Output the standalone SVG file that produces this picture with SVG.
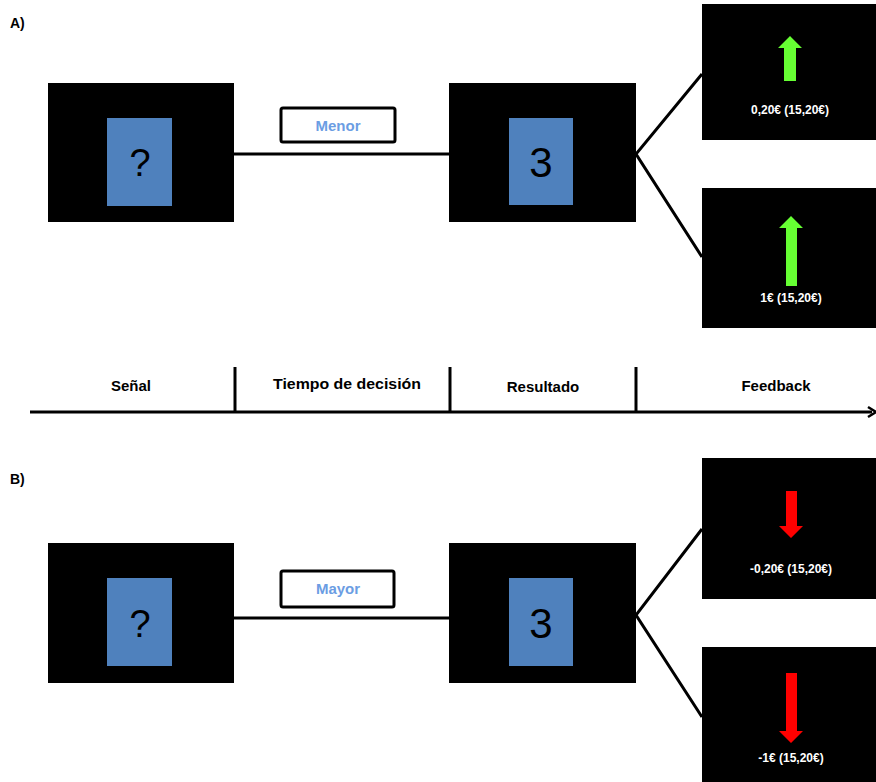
<svg xmlns="http://www.w3.org/2000/svg" width="876" height="782" viewBox="0 0 876 782">
<style>
.scr{fill:#000}
.card{fill:#4f81bd}
.lbl{fill:#fff;stroke:#000;stroke-width:3}
.ln{stroke:#000;stroke-width:3;fill:none}
.big{font-family:"Liberation Sans",Arial,sans-serif;font-size:42px;fill:#000;text-anchor:middle}
.btn{font-family:"Liberation Sans",Arial,sans-serif;font-size:15px;font-weight:bold;fill:#6b9de3;text-anchor:middle}
.fb{font-family:"Liberation Sans",Arial,sans-serif;font-size:12px;font-weight:bold;fill:#fff;text-anchor:middle}
.ph{font-family:"Liberation Sans",Arial,sans-serif;font-size:15px;font-weight:bold;fill:#000;text-anchor:middle}
.hd{font-family:"Liberation Sans",Arial,sans-serif;font-size:14px;font-weight:bold;fill:#000}
.up{fill:#66ff33}
.dn{fill:#ff0000}
</style>
<rect width="876" height="782" fill="#fff"/>

<text class="hd" x="10" y="28">A)</text>
<text class="hd" x="10" y="484">B)</text>

<g id="connectors">
  <line class="ln" x1="234" y1="154" x2="450" y2="154"/>
  <polyline class="ln" points="702,74 636,154 702,257"/>
  <line class="ln" x1="234" y1="618" x2="450" y2="618"/>
  <polyline class="ln" points="702,529 636,615 702,717"/>
</g>

<g id="timeline">
  <line class="ln" x1="30" y1="412" x2="872" y2="412"/>
  <path d="M868,407 L876,412 L868,417" fill="none" stroke="#000" stroke-width="2.5"/>
  <line class="ln" x1="235" y1="367" x2="235" y2="412"/>
  <line class="ln" x1="450" y1="367" x2="450" y2="412"/>
  <line class="ln" x1="636" y1="367" x2="636" y2="412"/>
  <text class="ph" x="131" y="391">Señal</text>
  <text class="ph" x="347" y="389" textLength="148" lengthAdjust="spacingAndGlyphs">Tiempo de decisión</text>
  <text class="ph" x="543" y="392">Resultado</text>
  <text class="ph" x="776" y="391">Feedback</text>
</g>

<g id="a-senal">
  <rect class="scr" x="48" y="83" width="186" height="139"/>
  <rect class="card" x="107" y="118" width="65" height="88"/>
  <text class="big" x="140" y="176" style="font-size:38px">?</text>
</g>
<g id="a-menor">
  <rect class="lbl" x="281" y="108" width="114" height="34" rx="2"/>
  <text class="btn" x="338" y="131">Menor</text>
</g>
<g id="a-resultado">
  <rect class="scr" x="449" y="83" width="187" height="139"/>
  <rect class="card" x="509" y="118" width="64" height="87"/>
  <text class="big" x="541" y="177">3</text>
</g>
<g id="a-fb1">
  <rect class="scr" x="702" y="4" width="174" height="136"/>
  <polygon class="up" points="790,36 802,48 796,48 796,81 784,81 784,48 778,48"/>
  <text class="fb" x="790" y="114">0,20€ (15,20€)</text>
</g>
<g id="a-fb2">
  <rect class="scr" x="702" y="188" width="174" height="140"/>
  <polygon class="up" points="791,216 803,228 797,228 797,286 786,286 786,228 779,228"/>
  <text class="fb" x="791" y="302">1€ (15,20€)</text>
</g>

<g id="b-senal">
  <rect class="scr" x="48" y="543" width="186" height="140"/>
  <rect class="card" x="107" y="578" width="65" height="88"/>
  <text class="big" x="140" y="637" style="font-size:38px">?</text>
</g>
<g id="b-mayor">
  <rect class="lbl" x="281" y="571" width="113" height="36" rx="2"/>
  <text class="btn" x="338" y="594">Mayor</text>
</g>
<g id="b-resultado">
  <rect class="scr" x="449" y="543" width="187" height="140"/>
  <rect class="card" x="509" y="578" width="64" height="88"/>
  <text class="big" x="541" y="638">3</text>
</g>
<g id="b-fb1">
  <rect class="scr" x="702" y="458" width="174" height="141"/>
  <polygon class="dn" points="786,491 797,491 797,526 803,526 791,538 779,526 786,526"/>
  <text class="fb" x="791" y="573">-0,20€ (15,20€)</text>
</g>
<g id="b-fb2">
  <rect class="scr" x="702" y="647" width="174" height="135"/>
  <polygon class="dn" points="786,673 797,673 797,731 803,731 791,743 779,731 786,731"/>
  <text class="fb" x="791" y="762">-1€ (15,20€)</text>
</g>
</svg>
